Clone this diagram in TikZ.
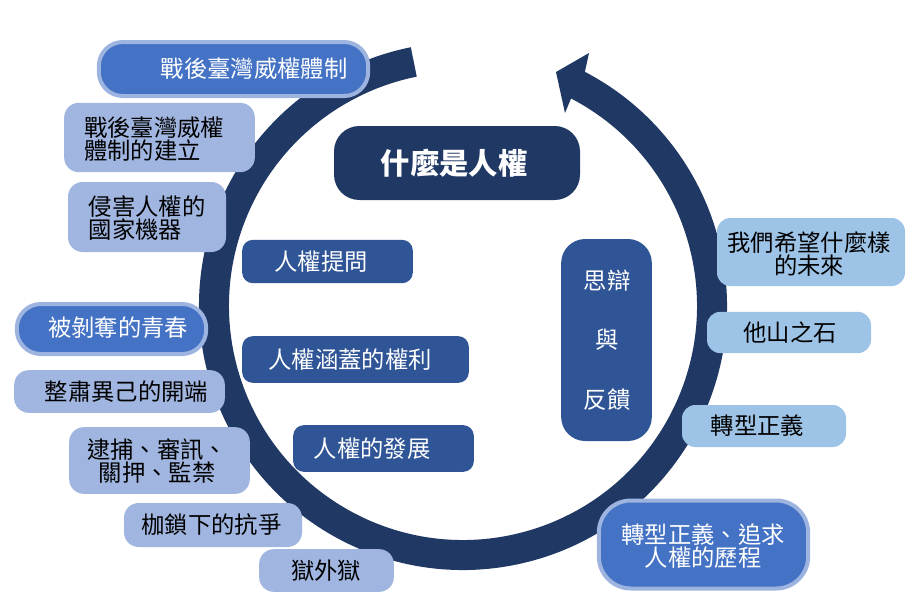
\documentclass[tikz,border=0pt]{standalone}
\usepackage{fontspec}
\newfontfamily\cjk{Noto Sans CJK TC}
\definecolor{ringc}{HTML}{203864}
\definecolor{innerc}{HTML}{2F5597}
\definecolor{brightc}{HTML}{4472C4}
\definecolor{borderc}{HTML}{9DB4E0}
\definecolor{leftc}{HTML}{A0B6E0}
\definecolor{rightc}{HTML}{9DC3E6}
\tikzset{
  bx/.style={rectangle, inner sep=0pt, draw=none},
  boxL/.style={bx, fill=leftc, rounded corners=11pt},
  boxR/.style={bx, fill=rightc, rounded corners=10pt},
  boxB/.style={bx, fill=brightc, draw=borderc, line width=3pt, rounded corners=18pt},
  boxD/.style={bx, fill=innerc, rounded corners=8pt},
  boxT/.style={bx, fill=ringc, rounded corners=19pt},
  txt/.style={inner sep=0pt, font=\cjk\fontsize{17.5pt}{17.5pt}\selectfont},
  txtK/.style={txt, text=black},
  txtW/.style={txt, text=white},
}
\begin{document}
\begin{tikzpicture}[x=0.75pt,y=0.75pt]
\useasboundingbox (0,0) rectangle (914,-615);
\fill[white] (0,0) rectangle (914,-615);
% ring arrow
\coordinate (C) at (463,-306);
\fill[ringc] ([shift={(C)}]101.4:198pt) arc[start angle=101.4,end angle=422.5,radius=198pt]
  -- (589,-53) -- (556,-72) -- (565,-113)
  -- ([shift={(C)}]422.5:175.5pt) arc[start angle=422.5,end angle=101.4,radius=175.5pt] -- cycle;
% title
\node[boxT, minimum width=184.5pt, minimum height=55.5pt] (t) at (457,-163) {};
\node[txtW, font=\cjk\bfseries\fontsize{22pt}{22pt}\selectfont] (tt) at (454,-163) {什麼是人權};
% left boxes
\node[boxB, minimum width=202pt, minimum height=40.5pt] (n1) at (233.5,-69) {};
\node[txtW] (n1t) at (254,-69) {戰後臺灣威權體制};
\node[boxL, minimum width=143pt, minimum height=52pt] (n2) at (159.5,-137.5) {};
\node[txtK, align=left] (n2t) at (154,-139) {戰後臺灣威權\\體制的建立};
\node[boxL, minimum width=118.5pt, minimum height=52.5pt] (n3) at (147,-217) {};
\node[txtK, align=left] (n3t) at (147,-218) {侵害人權的\\國家機器};
\node[boxB, minimum width=142pt, minimum height=37.5pt] (n4) at (111.5,-329) {};
\node[txtW] (n4t) at (118,-328) {被剝奪的青春};
\node[boxL, minimum width=158pt, minimum height=32pt] (n5) at (119.5,-391.5) {};
\node[txtK] (n5t) at (126.5,-392) {整肅異己的開端};
\node[boxL, minimum width=135.5pt, minimum height=50pt] (n6) at (159.5,-460.5) {};
\node[txtK, align=center] (n6t) at (157,-461) {逮捕、審訊、\\關押、監禁};
\node[boxL, minimum width=133.5pt, minimum height=33pt] (n7) at (213,-525) {};
\node[txtK] (n7t) at (211.5,-525) {枷鎖下的抗爭};
\node[boxL, minimum width=101pt, minimum height=32pt] (n8) at (326.5,-570.5) {};
\node[txtK] (n8t) at (326,-571) {獄外獄};
% inner boxes
\node[boxD, minimum width=128pt, minimum height=32.5pt] (n10) at (327.5,-261.5) {};
\node[txtW] (n10t) at (321,-262) {人權提問};
\node[boxD, minimum width=170pt, minimum height=35pt] (n11) at (355.5,-359.5) {};
\node[txtW] (n11t) at (350,-360) {人權涵蓋的權利};
\node[boxD, minimum width=135.5pt, minimum height=35pt] (n12) at (383.5,-448.5) {};
\node[txtW] (n12t) at (372,-449) {人權的發展};
\node[boxD, rounded corners=18pt, minimum width=68pt, minimum height=151.5pt] (n13) at (606.5,-340) {};
\node[txtW] (n13a) at (607,-281) {思辯};
\node[txtW] (n13b) at (607,-340) {與};
\node[txtW] (n13c) at (607,-400) {反饋};
% right boxes
\node[boxR, minimum width=141pt, minimum height=51pt] (n14) at (811,-252) {};
\node[txtK, align=center] (n14t) at (809,-254) {我們希望什麼樣\\的未來};
\node[boxR, minimum width=123pt, minimum height=31pt] (n15) at (789,-332.5) {};
\node[txtK] (n15t) at (790,-333) {他山之石};
\node[boxR, minimum width=123pt, minimum height=31.5pt] (n16) at (764,-426) {};
\node[txtK] (n16t) at (757.5,-426) {轉型正義};
\node[boxB, rounded corners=24pt, minimum width=157pt, minimum height=66pt] (n17) at (703.5,-544.5) {};
\node[txtW, align=center] (n17t) at (703,-546) {轉型正義、追求\\人權的歷程};
\end{tikzpicture}
\end{document}
